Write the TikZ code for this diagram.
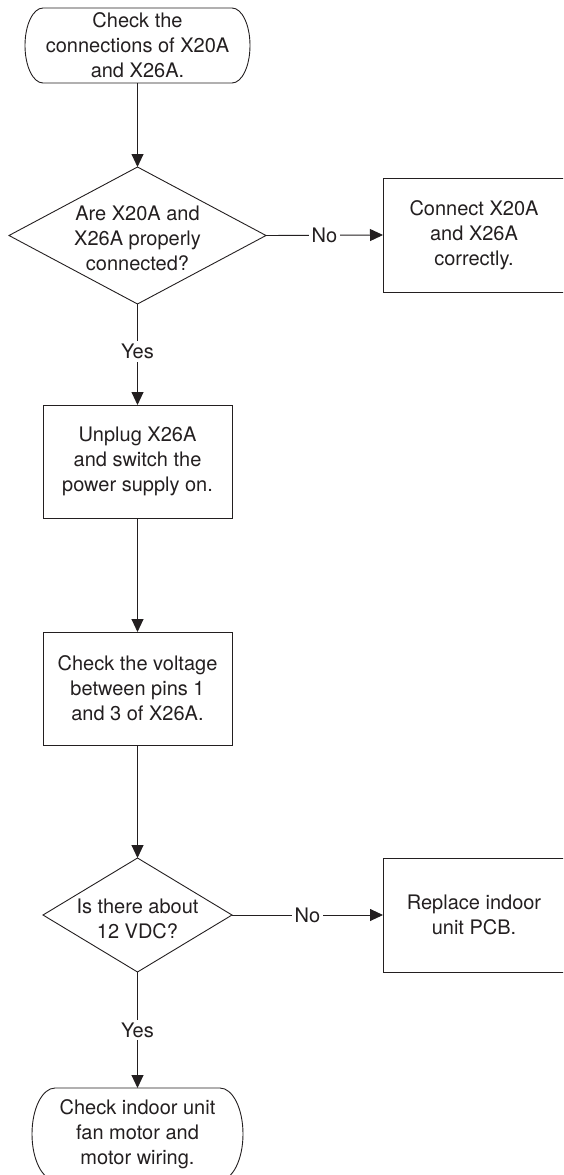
\documentclass[tikz,border=0pt]{standalone}
\usepackage{fontspec}
\setmainfont{TeX Gyre Heros}
\usetikzlibrary{arrows.meta,shapes.geometric}
\definecolor{ink}{HTML}{231F20}
\begin{document}
\begin{tikzpicture}[x=1pt,y=-1pt,
  every node/.style={font=\fontsize{20}{25}\selectfont, text=ink, align=center},
  line/.style={draw=ink, line width=0.9pt},
  arr/.style={line, -{Triangle[length=13pt,width=12pt]}},
  termbox/.style={rectangle, inner sep=0pt, outer sep=0pt},
  stepbox/.style={rectangle, draw=ink, line width=0.9pt, inner sep=0pt, outer sep=0pt},
  decision/.style={diamond, draw=ink, line width=0.9pt, inner sep=0pt, outer sep=0pt},
  lbl/.style={fill=white, inner sep=3pt}
]
\useasboundingbox (0,0) rectangle (563,1175);
\clip (0,0) rectangle (563,1175);

% top terminal
\node[termbox, minimum width=225pt, minimum height=75pt] (t1) at (137.5,45.5)
  {Check the\\connections of X20A\\and X26A.};
\draw[line] ([xshift=18pt]t1.north west) -- ([xshift=-18pt]t1.north east)
  arc[start angle=90, end angle=-90, x radius=18pt, y radius=37.5pt]
  -- ([xshift=18pt]t1.south west)
  arc[start angle=270, end angle=90, x radius=18pt, y radius=37.5pt] -- cycle;

% decision 1
\node[decision, minimum width=257pt, minimum height=137pt] (d1) at (137.5,235.5) {};
\node (d1t) at (137.5,238) {Are X20A and\\X26A properly\\connected?};

% connect box
\node[stepbox, minimum width=182pt, minimum height=114pt] (c1) at (474,235)
  {Connect X20A\\and X26A\\correctly.};

% box 2
\node[stepbox, minimum width=189pt, minimum height=113pt] (b2) at (137.5,461.5)
  {Unplug X26A\\and switch the\\power supply on.};

% box 3
\node[stepbox, minimum width=189pt, minimum height=113pt] (b3) at (137.5,688.5)
  {Check the voltage\\between pins 1\\and 3 of X26A.};

% decision 2
\node[decision, minimum width=189pt, minimum height=114pt] (d2) at (137.5,915) {};
\node (d2t) at (137.5,919) {Is there about\\12 VDC?};

% replace box
\node[stepbox, minimum width=182pt, minimum height=114pt] (r1) at (474,915)
  {Replace indoor\\unit PCB.};

% bottom terminal
\node[termbox, minimum width=211pt, minimum height=92pt] (t2) at (137.5,1134)
  {Check indoor unit\\fan motor and\\motor wiring.};
\draw[line] ([xshift=23pt]t2.north west) -- ([xshift=-23pt]t2.north east)
  arc[start angle=90, end angle=-90, x radius=23pt, y radius=46pt]
  -- ([xshift=23pt]t2.south west)
  arc[start angle=270, end angle=90, x radius=23pt, y radius=46pt] -- cycle;

% connectors
\draw[arr] (t1.south) -- (d1.north);
\draw[arr] (d1.east) -- node[lbl] (n1) {No} (c1.west);
\draw[arr] (d1.south) -- node[lbl, pos=0.47] (y1) {Yes} (b2.north);
\draw[arr] (b2.south) -- (b3.north);
\draw[arr] (b3.south) -- (d2.north);
\draw[arr] (d2.east) -- node[lbl] (n2) {No} (r1.west);
\draw[arr] (d2.south) -- node[lbl] (y2) {Yes} (t2.north);
\end{tikzpicture}
\end{document}
